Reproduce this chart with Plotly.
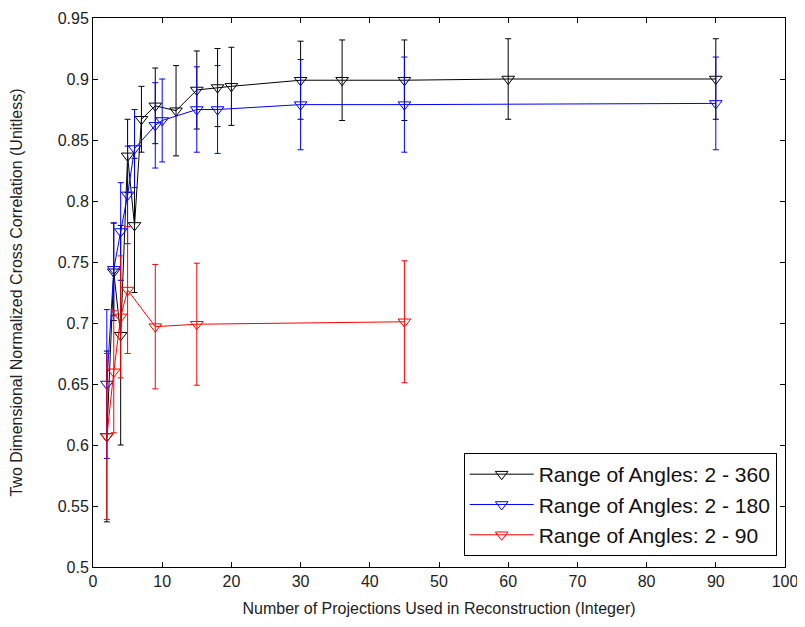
import plotly.graph_objects as go

# Range of Angles: 2 - 360
black_x = [2, 3, 4, 5, 6, 7, 9, 12, 15, 18, 20, 30, 36, 45, 60, 90]
black_y = [0.607, 0.742, 0.690, 0.837, 0.780, 0.867, 0.878, 0.874, 0.891, 0.893, 0.894, 0.899, 0.899, 0.899, 0.900, 0.900]
black_err = [0.070, 0.040, 0.090, 0.030, 0.055, 0.027, 0.031, 0.037, 0.032, 0.032, 0.032, 0.032, 0.033, 0.033, 0.033, 0.033]

# Range of Angles: 2 - 180
blue_x = [2, 3, 4, 5, 6, 9, 10, 15, 18, 30, 45, 90]
blue_y = [0.650, 0.744, 0.775, 0.805, 0.843, 0.862, 0.866, 0.875, 0.875, 0.879, 0.879, 0.880]
blue_err = [0.061, 0.038, 0.040, 0.040, 0.032, 0.035, 0.034, 0.035, 0.036, 0.037, 0.039, 0.038]

# Range of Angles: 2 - 90
red_x = [2, 3, 4, 5, 9, 15, 45]
red_y = [0.607, 0.660, 0.705, 0.727, 0.697, 0.699, 0.701]
red_err = [0.068, 0.050, 0.050, 0.052, 0.051, 0.050, 0.050]

series = [
    ("Range of Angles: 2 - 360", black_x, black_y, black_err, "#000000"),
    ("Range of Angles: 2 - 180", blue_x, blue_y, blue_err, "#0000ff"),
    ("Range of Angles: 2 - 90", red_x, red_y, red_err, "#ff0000"),
]

fig = go.Figure()
for name, xs, ys, es, col in series:
    fig.add_trace(go.Scatter(
        x=xs, y=ys, name=name, mode="lines+markers",
        line=dict(color=col, width=1),
        marker=dict(symbol="triangle-down-open", size=11, color=col, line=dict(width=1, color=col)),
        error_y=dict(type="data", array=es, visible=True, color=col, thickness=1, width=3),
    ))

font_family = "Liberation Sans, Arial, sans-serif"
fig.update_layout(
    width=797, height=619,
    margin=dict(l=85, r=20, t=10, b=60, autoexpand=False),
    paper_bgcolor="white", plot_bgcolor="white",
    font=dict(family=font_family, size=16, color="#222222"),
    showlegend=True,
    legend=dict(
        x=0.988, y=0.02, xanchor="right", yanchor="bottom",
        bordercolor="#000000", borderwidth=1, bgcolor="white",
        font=dict(size=21, color="#111111"),
        tracegroupgap=0, itemwidth=64,
    ),
)
fig.update_xaxes(
    range=[0, 100], dtick=10, tick0=0, automargin=False,
    showgrid=False, zeroline=False,
    showline=True, linecolor="black", linewidth=1, mirror="ticks",
    ticks="inside", ticklen=5, tickcolor="black",
    title=dict(text="Number of Projections Used in Reconstruction (Integer)", font=dict(size=16), standoff=13),
)
fig.update_yaxes(
    range=[0.5, 0.95], dtick=0.05, tick0=0.5, automargin=False,
    showgrid=False, zeroline=False,
    showline=True, linecolor="black", linewidth=1, mirror="ticks",
    ticks="inside", ticklen=5, tickcolor="black",
    title=dict(text="Two Dimensional Normalized Cross Correlation (Unitless)", font=dict(size=16), standoff=44),
)

fig.write_html("out.html")
